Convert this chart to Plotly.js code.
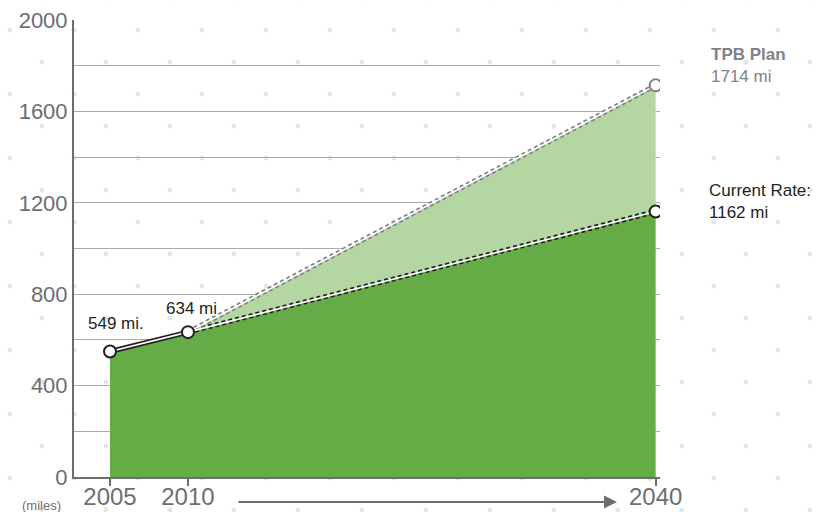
<!DOCTYPE html>
<html>
<head>
<meta charset="utf-8">
<script src="https://cdn.plot.ly/plotly-3.0.1.min.js"></script>
<style>html,body{margin:0;padding:0;background:#fff;}#chart{width:832px;height:512px;}</style>
</head>
<body>
<div id="chart"></div>
<script>
// ---- data ----
const years = [2005, 2010, 2040];
const currentRate = [549, 634, 1162];          // miles, current rate of construction
const tpbYears = [2010, 2040];
const tpbPlan = [634, 1714];                    // miles, TPB plan
const pointLabels = ['549 mi.', '634 mi'];
const currentLabel = 'Current Rate:<br>1162 mi';
const tpbLabel = '<b>TPB Plan</b><br>1714 mi';
const xTickVals = [2005, 2010, 2040];
const xTickText = ['2005', '2010', '2040'];
const yTickVals = [0, 200, 400, 600, 800, 1000, 1200, 1400, 1600, 1800, 2000];
const yTickText = ['0', '', '400', '', '800', '', '1200', '', '1600', '', '2000'];
const unitLabel = '(miles)';

// ---- styling ----
const FONT = 'Liberation Sans, Arial, Helvetica, sans-serif';
const DARK = '#231f20';
const GREY = '#808285';
const AXIS = '#6d6e71';
const GREEN = '#66ac46';
const LIGHTGREEN = '#b3d6a3';

const W = 832, H = 512;
const M = {l: 74, r: 172, t: 20, b: 35};
const PW = W - M.l - M.r, PH = H - M.t - M.b;
const px = x => (x - M.l) / PW;
const py = y => (H - M.b - y) / PH;

// decorative dot pattern (background)
const shapes = [];
for (let k = -1; k <= 15; k++) {
  const yy = 30 + 32 * k;
  for (let xx = (k % 2 === 0 ? 10 : 42); xx < W + 10; xx += 64) {
    shapes.push({type: 'circle', xref: 'paper', yref: 'paper', layer: 'below',
      x0: px(xx - 2.6), x1: px(xx + 2.6), y0: py(yy + 2.6), y1: py(yy - 2.6),
      fillcolor: '#e6e6e6', line: {width: 0}});
  }
}
// leader lines to side labels
shapes.push({type: 'line', xref: 'x', yref: 'y', xsizemode: 'pixel', ysizemode: 'pixel',
  xanchor: years[2], x0: 11, x1: 50, yanchor: tpbPlan[1], y0: 3, y1: 3,
  line: {color: GREY, width: 2}});
shapes.push({type: 'line', xref: 'x', yref: 'y', xsizemode: 'pixel', ysizemode: 'pixel',
  xanchor: years[2], x0: 11, x1: 50, yanchor: currentRate[2], y0: 0, y1: 0,
  line: {color: DARK, width: 2}});

const traces = [
  // baseline for the plan band
  {x: years.slice(1), y: currentRate.slice(1), mode: 'lines', line: {width: 0}, hoverinfo: 'skip'},
  // TPB plan band
  {x: tpbYears, y: tpbPlan, mode: 'lines', fill: 'tonexty', fillcolor: LIGHTGREEN, line: {width: 0}, hoverinfo: 'skip'},
  // current rate area
  {x: years, y: currentRate, mode: 'lines', fill: 'tozeroy', fillcolor: GREEN, line: {width: 0}, hoverinfo: 'skip'},
  // solid historical segment
  {x: years.slice(0, 2), y: currentRate.slice(0, 2), mode: 'lines', line: {color: DARK, width: 5}, hoverinfo: 'skip'},
  // dashed projection, current rate
  {x: years.slice(1), y: currentRate.slice(1), mode: 'lines', line: {color: DARK, width: 5, dash: '4px,3px'}, hoverinfo: 'skip'},
  // dashed projection, TPB plan
  {x: tpbYears, y: tpbPlan, mode: 'lines', line: {color: GREY, width: 5, dash: '4px,3px'}, hoverinfo: 'skip'},
  // white centre lines
  {x: years, y: currentRate, mode: 'lines', line: {color: '#ffffff', width: 1.6}, hoverinfo: 'skip'},
  {x: tpbYears, y: tpbPlan, mode: 'lines', line: {color: '#ffffff', width: 1.6}, hoverinfo: 'skip'},
  // markers
  {x: years, y: currentRate, mode: 'markers', marker: {size: 12, color: '#ffffff', line: {color: DARK, width: 2}}, hoverinfo: 'skip'},
  {x: tpbYears.slice(-1), y: tpbPlan.slice(-1), mode: 'markers', marker: {size: 12, color: '#ffffff', line: {color: GREY, width: 2}}, hoverinfo: 'skip'}
];

const annotations = [
  {x: years[0], y: currentRate[0], xref: 'x', yref: 'y', text: pointLabels[0], showarrow: false,
   xshift: 6, yshift: 28, font: {family: FONT, size: 17, color: DARK}},
  {x: years[1], y: currentRate[1], xref: 'x', yref: 'y', text: pointLabels[1], showarrow: false,
   xshift: 4, yshift: 24, font: {family: FONT, size: 17, color: DARK}},
  {x: years[2], y: currentRate[2], xref: 'x', yref: 'y', text: currentLabel, showarrow: false,
   xanchor: 'left', yanchor: 'middle', align: 'left', xshift: 51, yshift: 10,
   font: {family: FONT, size: 17, color: DARK}},
  {x: tpbYears[1], y: tpbPlan[1], xref: 'x', yref: 'y', text: tpbLabel, showarrow: false,
   xanchor: 'left', yanchor: 'middle', align: 'left', xshift: 53, yshift: 20,
   font: {family: FONT, size: 17, color: GREY}},
  {x: px(41.5), y: py(505), xref: 'paper', yref: 'paper', text: unitLabel, showarrow: false,
   xanchor: 'center', yanchor: 'middle', font: {family: FONT, size: 13, color: AXIS}},
  {x: px(617), y: py(502), xref: 'paper', yref: 'paper', text: '', showarrow: true,
   ax: -380, ay: 0, axref: 'pixel', ayref: 'pixel', arrowhead: 2, arrowsize: 1.3, arrowwidth: 2,
   arrowcolor: AXIS, standoff: 0}
];

const layout = {
  width: W, height: H,
  margin: {l: M.l, r: M.r, t: M.t, b: M.b, pad: 0},
  paper_bgcolor: '#ffffff', plot_bgcolor: 'rgba(0,0,0,0)',
  showlegend: false,
  font: {family: FONT},
  xaxis: {
    type: 'linear', range: [2002.69, 2040.28],
    tickmode: 'array', tickvals: xTickVals, ticktext: xTickText,
    ticks: 'outside', ticklen: 7, tickwidth: 2, tickcolor: AXIS,
    showline: true, linecolor: AXIS, linewidth: 2,
    showgrid: false, zeroline: false,
    tickfont: {family: FONT, size: 24, color: AXIS},
    ticklabelstandoff: -10,
    fixedrange: true
  },
  yaxis: {
    range: [0, 2000],
    tickmode: 'array', tickvals: yTickVals, ticktext: yTickText,
    ticks: '', showline: true, linecolor: AXIS, linewidth: 2,
    showgrid: true, gridcolor: '#aaaaaa', gridwidth: 1, zeroline: false,
    tickfont: {family: FONT, size: 22, color: AXIS},
    ticklabelstandoff: 0,
    fixedrange: true
  },
  shapes: shapes,
  annotations: annotations
};

Plotly.newPlot('chart', traces, layout, {displayModeBar: false, staticPlot: true});
</script>
</body>
</html>
